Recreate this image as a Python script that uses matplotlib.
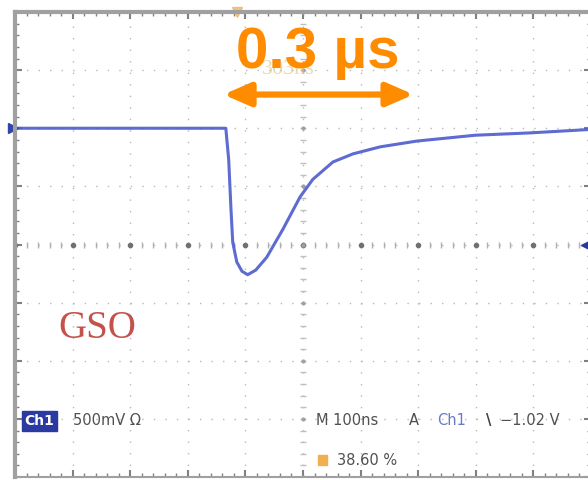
import numpy as np
import matplotlib.pyplot as plt
from matplotlib.patches import Rectangle

# GSO scintillator pulse as seen on the scope: 100 ns/div, 500 mV/div
time_ns = [0, 100, 200, 300, 366, 371, 375, 378, 385, 394, 404, 418, 437,
           465, 495, 517, 552, 587, 634, 698, 799, 894, 1000]
signal_v = [1.0, 1.0, 1.0, 1.0, 1.0, 0.73, 0.30, 0.02, -0.15, -0.23, -0.26,
            -0.22, -0.11, 0.13, 0.41, 0.56, 0.71, 0.78, 0.84, 0.89, 0.94,
            0.96, 0.99]

W, H = 588, 481
fig = plt.figure(figsize=(W / 100, H / 100), dpi=100)
fig.patch.set_facecolor('white')

# screen area (right border falls just outside the image)
ax = fig.add_axes([15 / W, 3 / H, 576 / W, 465 / H])
ax.set_xlim(0, 1000)
ax.set_ylim(-2, 2)

ax.set_xticks(np.arange(0, 1001, 100))
ax.set_yticks(np.arange(-2, 2.01, 0.5))
ax.set_xticks(np.arange(0, 1001, 20), minor=True)
ax.set_yticks(np.arange(-2, 2.01, 0.1), minor=True)
ax.set_xticklabels([])
ax.set_yticklabels([])
ax.tick_params(which='both', direction='in', top=True, right=True, color='#808080')
ax.tick_params(which='major', length=5, width=1.5)
ax.tick_params(which='minor', length=3, width=1)

ax.grid(True, which='major', color='#b8b8b8', lw=1, linestyle=(0, (1, 7.3)))
for side in ['top', 'left']:
    ax.spines[side].set_linewidth(3)
    ax.spines[side].set_color('#a0a0a0')
for side in ['bottom', 'right']:
    ax.spines[side].set_linewidth(1.5)
    ax.spines[side].set_color('#a0a0a0')

# centre crosshair with fine graduations
fine_x = np.arange(0, 1001, 20)
fine_y = np.arange(-2, 2.01, 0.1)
ax.plot(fine_x, np.zeros_like(fine_x), ls='none', marker='|', ms=4, mew=1, color='#b0b0b0')
ax.plot(np.full_like(fine_y, 500), fine_y, ls='none', marker='_', ms=4, mew=1, color='#c0c0c0')
ax.plot(np.arange(0, 1001, 100), np.zeros(11), ls='none', marker='o', ms=3, color='#707070')
ax.plot(np.full(9, 500), np.arange(-2, 2.01, 0.5), ls='none', marker='o', ms=2, color='#a0a0a0')

# waveform
ax.plot(time_ns, signal_v, color='#4b5bcf', lw=2.2, alpha=0.9,
        solid_joinstyle='round', solid_capstyle='round')

# channel ground marker, trigger level and trigger position markers
ax.plot([-3], [1.0], marker='>', ms=7, color='#3344aa', clip_on=False)
ax.plot([991], [0.0], marker='<', ms=7, color='#2a3a9a', clip_on=False)
ax.plot([385], [2.0], marker='v', ms=7, color='#e8b060', alpha=0.7, clip_on=False)

# faded cursor readout behind the annotation
fig.text(262 / W, 1 - 70 / H, '303ns', fontsize=16, family='Liberation Serif',
         color='#e0c890', alpha=0.7, va='center', ha='left')

# width annotation
orange = '#ff8c00'
ax.annotate('', xy=(362, 1.29), xytext=(692, 1.29),
            arrowprops=dict(arrowstyle='<|-|>,head_length=1.6,head_width=0.7',
                            lw=4.5, color=orange, shrinkA=0, shrinkB=0))
fig.text(318 / W, 1 - 53 / H, '0.3 µs', fontsize=42, fontweight='bold',
         family='Liberation Sans', color=orange, ha='center', va='center')

# crystal label
fig.text(97 / W, 1 - 329 / H, 'GSO', fontsize=28, family='Liberation Serif',
         color='#c4524a', ha='center', va='center')

# scope status line
fig.patches.append(Rectangle((22 / W, 1 - 432 / H), 35 / W, 20 / H,
                             transform=fig.transFigure, color='#2a3aa0'))
fig.text(39.5 / W, 1 - 421 / H, 'Ch1', fontsize=10, color='white',
         ha='center', va='center', fontweight='bold')
txt = dict(fontsize=10.5, color='#505050', va='center', ha='left')
fig.text(73 / W, 1 - 421 / H, '500mV Ω', **txt)
fig.text(316 / W, 1 - 421 / H, 'M 100ns', **txt)
fig.text(409 / W, 1 - 421 / H, 'A', **txt)
fig.text(437 / W, 1 - 421 / H, 'Ch1', fontsize=10.5, color='#6a78c8', va='center', ha='left')
fig.text(486 / W, 1 - 421 / H, '\\', fontsize=10.5, color='#404040', va='center',
         ha='left', fontweight='bold')
fig.text(500 / W, 1 - 421 / H, '−1.02 V', **txt)
fig.patches.append(Rectangle((318 / W, 1 - 466 / H), 9 / W, 10 / H,
                             transform=fig.transFigure, color='#f0b050'))
fig.text(337 / W, 1 - 461 / H, '38.60 %', **txt)

fig.savefig('out.png', dpi=100, facecolor='white')
